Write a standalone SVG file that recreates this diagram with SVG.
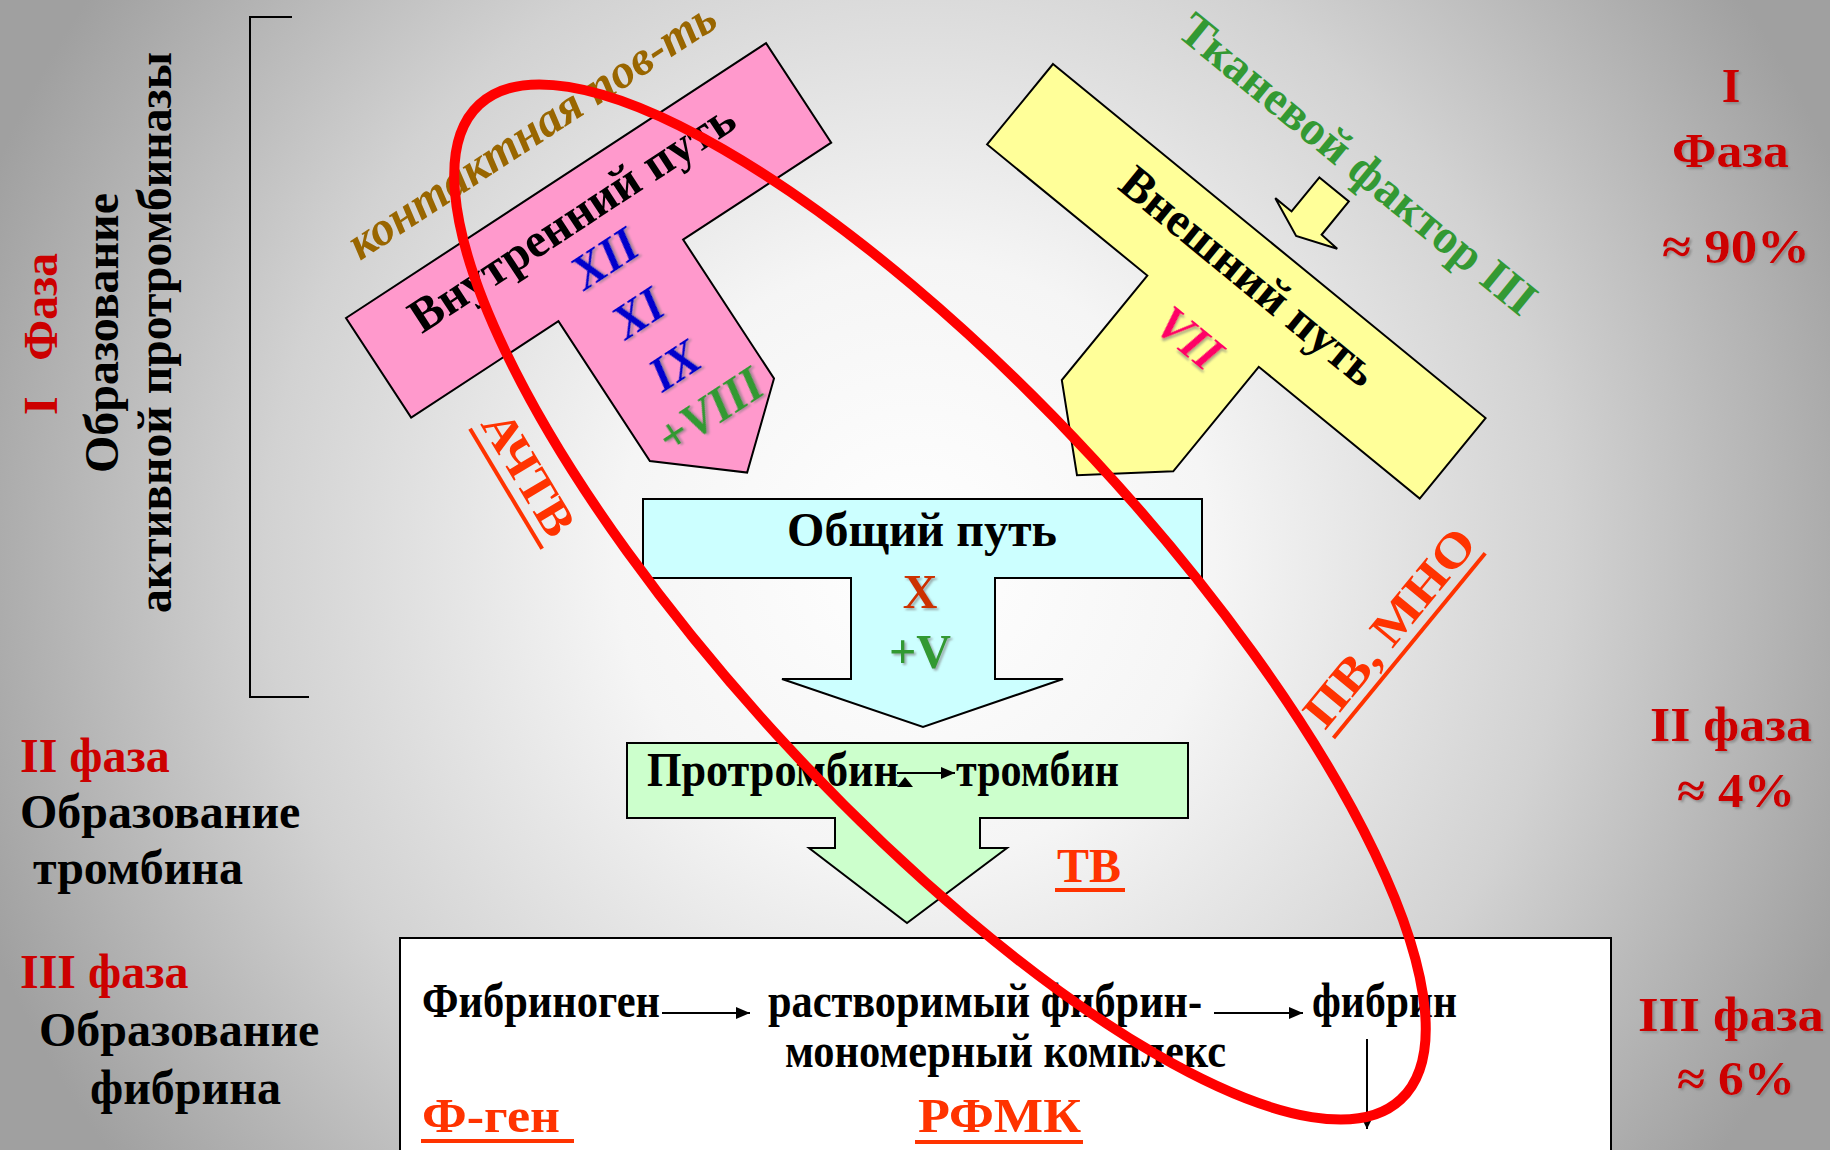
<svg xmlns="http://www.w3.org/2000/svg" width="1830" height="1150" viewBox="0 0 1830 1150">
<defs>
<radialGradient id="bgGrad" gradientUnits="userSpaceOnUse" cx="915" cy="560" r="1000">
<stop offset="0" stop-color="#ffffff"/>
<stop offset="0.3" stop-color="#f5f5f5"/>
<stop offset="0.65" stop-color="#d2d2d2"/>
<stop offset="1" stop-color="#a0a0a0"/>
</radialGradient>
<filter id="sh" x="-20%" y="-20%" width="140%" height="140%">
<feDropShadow dx="2" dy="2" stdDeviation="1" flood-color="#777" flood-opacity="0.6"/>
</filter>
<marker id="ah" markerWidth="14" markerHeight="12" refX="14" refY="6" orient="auto" markerUnits="userSpaceOnUse">
<path d="M0,0 L14,6 L0,12 Z" fill="#000"/>
</marker>
<marker id="ahs" markerWidth="8" markerHeight="8" refX="8" refY="4" orient="auto" markerUnits="userSpaceOnUse">
<path d="M0,0 L8,4 L0,8 Z" fill="#000"/>
</marker>
</defs>
<style>
text{font-family:"Liberation Serif","Times New Roman",serif;font-weight:bold;font-size:48px}
.shape{stroke:#000;stroke-width:2;stroke-linejoin:miter}
.it{font-style:italic}
.red{fill:#cc0000}
.org{fill:#ff3300}
.blk{fill:#000}
.grn{fill:#339933}
.blu{fill:#0000cc}
.mid{text-anchor:middle}
.ul{stroke:#ff3300;stroke-width:4}
.conn{stroke:#000;stroke-width:2;fill:none}
</style>

<rect id="background" x="0" y="0" width="1830" height="1150" fill="url(#bgGrad)"/>

<g id="bracket">
<path d="M292,17 H250 V697 H309" fill="none" stroke="#000" stroke-width="2"/>
</g>

<g id="left-phase1">
<text class="red" transform="translate(57,415) rotate(-90)" font-size="52" textLength="162" lengthAdjust="spacingAndGlyphs" xml:space="preserve">I   Фаза</text>
<text class="blk" transform="translate(118,473) rotate(-90)" font-size="52" textLength="280" lengthAdjust="spacingAndGlyphs">Образование</text>
<text class="blk" transform="translate(171,613) rotate(-90)" font-size="52" textLength="561" lengthAdjust="spacingAndGlyphs">активной протромбиназы</text>
</g>

<g id="left-phase2">
<text class="red" x="20" y="772" font-size="46">II фаза</text>
<text class="blk" x="20" y="828" font-size="46">Образование</text>
<text class="blk" x="33" y="884" font-size="46">тромбина</text>
</g>

<g id="left-phase3">
<text class="red" x="20" y="988" font-size="46">III фаза</text>
<text class="blk" x="39" y="1046" font-size="46">Образование</text>
<text class="blk" x="90" y="1104" font-size="46">фибрина</text>
</g>

<g id="right-labels" filter="url(#sh)">
<text class="red mid" x="1731" y="102" font-size="52">I</text>
<text class="red" x="1672" y="167" font-size="52" textLength="117" lengthAdjust="spacingAndGlyphs">Фаза</text>
<text class="red" x="1662" y="263" font-size="52" textLength="148" lengthAdjust="spacingAndGlyphs">≈ 90%</text>
<text class="red" x="1650" y="741" font-size="49" textLength="162" lengthAdjust="spacingAndGlyphs">II фаза</text>
<text class="red" x="1677" y="807" font-size="49" textLength="118" lengthAdjust="spacingAndGlyphs">≈ 4%</text>
<text class="red" x="1638" y="1031" font-size="50" textLength="186" lengthAdjust="spacingAndGlyphs">III фаза</text>
<text class="red" x="1677" y="1095" font-size="50" textLength="118" lengthAdjust="spacingAndGlyphs">≈ 6%</text>
</g>

<g id="intrinsic" transform="translate(346,318) rotate(-33.2)">
<path class="shape" fill="#ff99cc" d="M0,0 H502 V119 H325 V285 L251,349 L176,286 V119 H0 Z"/>
<text class="it" x="43" y="-40" fill="#996600">контактная пов-ть</text>
<text class="blk mid" x="244" y="55">Внутренний путь</text>
<g filter="url(#sh)">
<text class="blu it mid" x="249" y="108" font-size="52">XII</text>
<text class="blu it mid" x="247" y="172" font-size="52">XI</text>
<text class="blu it mid" x="249" y="236" font-size="52">IX</text>
<text class="grn it mid" x="254" y="293">+VIII</text>
</g>
</g>

<g id="extrinsic" transform="translate(1053,64) rotate(39.3)">
<path class="shape" fill="#ffff99" d="M0,0 H559 V104 H351 V239 L279,303 L207,239 V104 H0 Z"/>
<text class="blk mid" x="286" y="56">Внешний путь</text>
<text class="it mid" x="279" y="142" fill="#ff0066" font-size="50" filter="url(#sh)">VII</text>
<text class="grn" x="76" y="-100">Тканевой фактор III</text>
<path class="shape" fill="#ffff99" d="M278,-81 H316 V-38 L337,-37 L297,-21 L257,-37 L278,-37 Z"/>
</g>

<g id="aptt-label" transform="translate(480,424) rotate(59)">
<text class="org" x="0" y="0" font-size="48" textLength="136" lengthAdjust="spacingAndGlyphs">АЧТВ</text>
<line class="ul" x1="-1" y1="11" x2="139" y2="11"/>
</g>

<g id="pt-label" transform="translate(1325,731) rotate(-50.6)">
<text class="org" x="0" y="0" font-size="52" textLength="242" lengthAdjust="spacingAndGlyphs">ПВ, МНО</text>
<line class="ul" x1="0" y1="11" x2="239" y2="11"/>
</g>

<g id="common">
<path class="shape" fill="#ccffff" d="M643,499 H1202 V578 H995 V679 H1063 L923,727 L782,679 H851 V578 H643 Z"/>
<text class="blk mid" x="922" y="546" font-size="46">Общий путь</text>
<text class="mid" x="920" y="608" fill="#cc3300" filter="url(#sh)">X</text>
<text class="grn mid" x="920" y="668" filter="url(#sh)">+V</text>
</g>

<g id="prothrombin">
<path class="shape" fill="#ccffcc" d="M627,743 H1188 V818 H980 V848 H1007 L907,923 L809,848 H835 V818 H627 Z"/>
<text class="blk" x="647" y="786" font-size="44" textLength="252" lengthAdjust="spacingAndGlyphs">Протромбин</text>
<text class="blk" x="956" y="786" font-size="44" textLength="163" lengthAdjust="spacingAndGlyphs">тромбин</text>
</g>

<g id="tv-label">
<text class="org" x="1057" y="882" font-size="50">ТВ</text>
<line class="ul" x1="1055" y1="890" x2="1125" y2="890"/>
</g>

<g id="fibrin">
<rect class="shape" x="400" y="938" width="1211" height="220" fill="#ffffff"/>
<text class="blk" x="422" y="1017" font-size="42" textLength="238" lengthAdjust="spacingAndGlyphs">Фибриноген</text>
<text class="blk" x="768" y="1017" font-size="42" textLength="434" lengthAdjust="spacingAndGlyphs">растворимый фибрин-</text>
<text class="blk" x="785" y="1067" font-size="42" textLength="441" lengthAdjust="spacingAndGlyphs">мономерный комплекс</text>
<text class="blk" x="1312" y="1017" font-size="42" textLength="145" lengthAdjust="spacingAndGlyphs">фибрин</text>
<text class="org" x="422" y="1132" font-size="48" textLength="138" lengthAdjust="spacingAndGlyphs">Ф-ген</text>
<line class="ul" x1="421" y1="1141" x2="574" y2="1141"/>
<text class="org" x="918" y="1132" font-size="50" textLength="163" lengthAdjust="spacingAndGlyphs">РФМК</text>
<line class="ul" x1="915" y1="1142" x2="1083" y2="1142"/>
</g>

<g id="connectors">
<line class="conn" x1="662" y1="1013" x2="750" y2="1013" marker-end="url(#ah)"/>
<line class="conn" x1="1214" y1="1013" x2="1303" y2="1013" marker-end="url(#ah)"/>
<line class="conn" x1="1367" y1="1039" x2="1367" y2="1129" marker-end="url(#ahs)"/>
<line class="conn" x1="897" y1="773" x2="955" y2="773" marker-end="url(#ah)"/>
<path d="M897,787 L913,787 L905,777 Z" fill="#000"/>
</g>

<g id="highlight">
<ellipse cx="940" cy="602" rx="678" ry="210" transform="rotate(47.2 940 602)" fill="none" stroke="#ff0000" stroke-width="10"/>
</g>
</svg>
